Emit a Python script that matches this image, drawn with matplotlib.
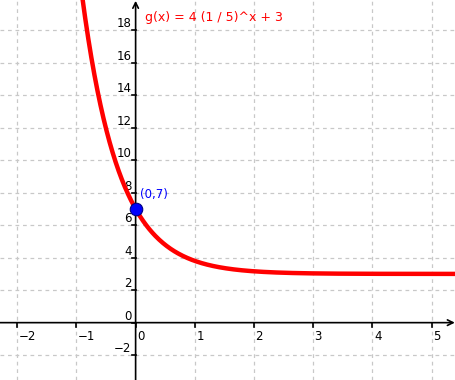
import numpy as np
import matplotlib
matplotlib.use("Agg")
import matplotlib.pyplot as plt

# g(x) = a * b^x + c
a, b, c = 4, 1 / 5, 3
pt_x, pt_y = 0, 7
x_ticks = [-2, -1, 0, 1, 2, 3, 4, 5]
y_ticks = [-2, 0, 2, 4, 6, 8, 10, 12, 14, 16, 18]
title = "g(x) = 4 (1 / 5)^x + 3"
pt_label = "(0,7)"

XMIN, XMAX, YMIN, YMAX = -2.29, 5.41, -3.53, 19.86
RED = "#ff0000"; BLUE = "#0000ff"; GRID = "#c8c8c8"

fig = plt.figure(figsize=(4.56, 3.80), dpi=100)
ax = fig.add_axes([0, 0, 1, 1])
ax.set_xlim(XMIN, XMAX); ax.set_ylim(YMIN, YMAX)
ax.axis("off")

# dashed grid
for xv in x_ticks:
    if xv != 0:
        ax.axvline(xv, color=GRID, lw=0.9, ls=(0, (3, 3)), zorder=0)
for yv in y_ticks:
    if yv != 0:
        ax.axhline(yv, color=GRID, lw=0.9, ls=(0, (3, 3)), zorder=0)

# axes with arrows
ax.annotate("", xy=(XMAX - 0.02, 0), xytext=(XMIN, 0),
            arrowprops=dict(arrowstyle="->", lw=1.2, color="black", shrinkA=0, shrinkB=0))
ax.annotate("", xy=(0, YMAX - 0.05), xytext=(0, YMIN),
            arrowprops=dict(arrowstyle="->", lw=1.2, color="black", shrinkA=0, shrinkB=0))

# ticks + labels
for xv in x_ticks:
    ax.plot([xv, xv], [0, -0.25], color="black", lw=1.2)
    lab = str(xv).replace("-", "\u2212")
    ax.annotate(lab, (xv, 0), xytext=(1, -5), textcoords="offset points",
                ha="left", va="top", fontsize=8.5)
for yv in y_ticks:
    ax.plot([0, -0.06], [yv, yv], color="black", lw=1.2)
    lab = str(yv).replace("-", "\u2212")
    ax.annotate(lab, (0, yv), xytext=(-3, 0), textcoords="offset points",
                ha="right", va="bottom", fontsize=8.5)

# curve
xs = np.linspace(XMIN, XMAX, 600)
ax.plot(xs, a * b ** xs + c, color=RED, lw=3.2, zorder=3, solid_capstyle="butt")

# point
ax.plot([pt_x], [pt_y], "o", ms=9, mfc=BLUE, mec="#000080", mew=0.8, zorder=4)
ax.annotate(pt_label, (pt_x, pt_y), xytext=(3, 6), textcoords="offset points",
            color=BLUE, fontsize=8.5, ha="left", va="bottom")

ax.text(145 / 456, 1 - 18 / 380, title, transform=ax.transAxes, color=RED,
        fontsize=9, ha="left", va="center")

fig.savefig("out.png", dpi=100)
